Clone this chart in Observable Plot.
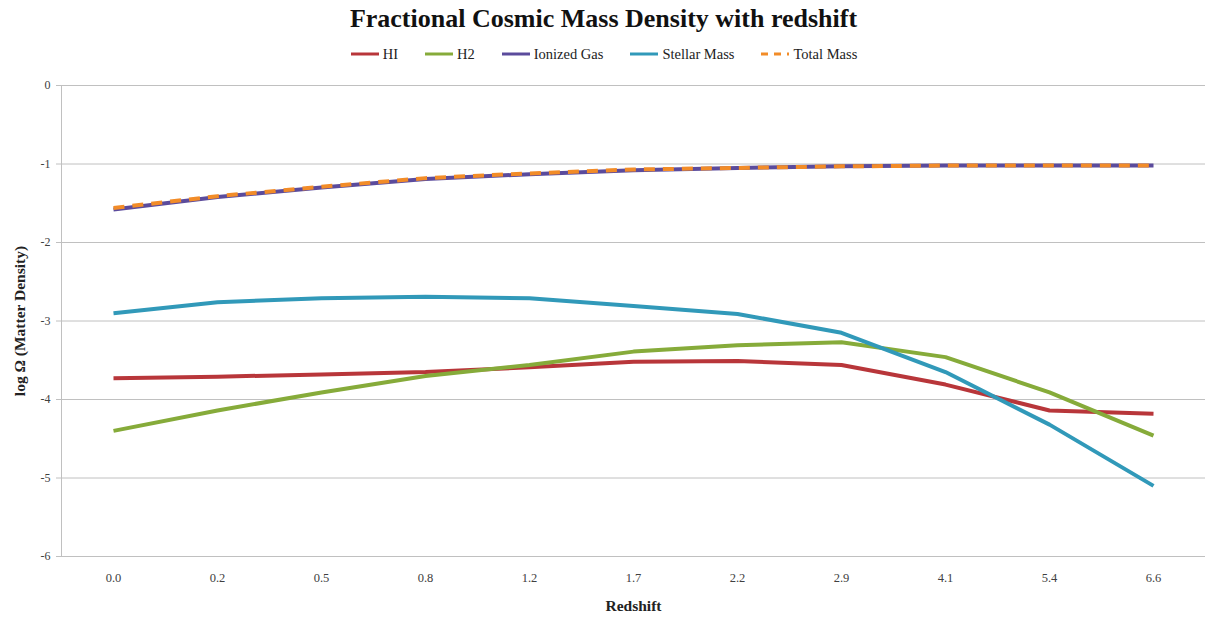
<!DOCTYPE html>
<html>
<head>
<meta charset="utf-8">
<script src="https://cdn.jsdelivr.net/npm/d3@7"></script>
<script src="https://cdn.jsdelivr.net/npm/@observablehq/plot@0.6"></script>
<style>
  html, body { margin: 0; padding: 0; background: #fff; }
  #wrap { width: 1207px; font-family: "Liberation Serif", serif; }
  #title { height: 38px; line-height: 38px; text-align: center; font-weight: bold; font-size: 26px; color: #111; }
  #legend { height: 32px; display: flex; justify-content: center; align-items: center; gap: 26px; font-size: 14.5px; color: #222; }
  .item { display: flex; align-items: center; gap: 3px; }
</style>
</head>
<body>
<div id="wrap">
  <div id="title"></div>
  <div id="legend"></div>
  <div id="chart"></div>
</div>
<script>
const chartTitle = "Fractional Cosmic Mass Density with redshift";
const xLabel = "Redshift";
const yLabel = "log Ω (Matter Density)";
const categories = ["0.0","0.2","0.5","0.8","1.2","1.7","2.2","2.9","4.1","5.4","6.6"];
const yTicks = [0, -1, -2, -3, -4, -5, -6];
const seriesNames = ["HI", "H2", "Ionized Gas", "Stellar Mass", "Total Mass"];
const seriesColors = ["#b8363a", "#86ab3a", "#5b4b9c", "#3199b9", "#f28c28"];
const HI          = [-3.73, -3.71, -3.68, -3.65, -3.59, -3.52, -3.51, -3.56, -3.81, -4.14, -4.18];
const H2          = [-4.40, -4.14, -3.91, -3.70, -3.56, -3.39, -3.31, -3.27, -3.46, -3.91, -4.46];
const ionizedGas  = [-1.58, -1.42, -1.30, -1.19, -1.13, -1.08, -1.05, -1.03, -1.02, -1.02, -1.02];
const stellarMass = [-2.90, -2.76, -2.71, -2.69, -2.71, -2.81, -2.91, -3.15, -3.65, -4.32, -5.10];
const totalMass   = [-1.56, -1.41, -1.29, -1.18, -1.12, -1.07, -1.05, -1.03, -1.02, -1.02, -1.02];
const seriesValues = [HI, H2, ionizedGas, stellarMass, totalMass];

document.getElementById("title").textContent = chartTitle;

// legend
const legend = document.getElementById("legend");
seriesNames.forEach((name, i) => {
  const item = document.createElement("div");
  item.className = "item";
  const dashed = name === "Total Mass";
  item.innerHTML = `<svg width="30" height="8"><line x1="1" y1="4" x2="29" y2="4" stroke="${seriesColors[i]}" stroke-width="3" ${dashed ? 'stroke-dasharray="7,6"' : ''}/></svg><span>${name}</span>`;
  legend.appendChild(item);
});

const rows = [];
seriesNames.forEach((name, i) => {
  categories.forEach((c, j) => rows.push({series: name, x: c, y: seriesValues[i][j]}));
});
const solid = rows.filter(d => d.series !== "Total Mass");
const dashedRows = rows.filter(d => d.series === "Total Mass");

const chart = Plot.plot({
  width: 1207,
  height: 547,
  marginTop: 15,
  marginBottom: 61,
  marginLeft: 61,
  marginRight: 2,
  style: {fontFamily: "Liberation Serif, serif", fontSize: "12px", color: "#404040", background: "#fff"},
  x: {type: "point", domain: categories, padding: 0.5},
  y: {domain: [-6, 0]},
  color: {domain: seriesNames, range: seriesColors},
  marks: [
    Plot.gridY(yTicks, {stroke: "#c0c0c0", strokeOpacity: 1, strokeWidth: 1}),
    Plot.frame({anchor: "left", stroke: "#c0c0c0"}),
    Plot.axisY({ticks: yTicks, tickSize: 5, tickPadding: 6, tickFormat: d => String(d), stroke: "#c0c0c0",
      label: yLabel, labelAnchor: "center", labelArrow: "none", labelOffset: 48,
      fontSize: 12}),
    Plot.axisX({tickSize: 0, tickPadding: 17, label: xLabel, labelAnchor: "center", labelArrow: "none", labelOffset: 54, fontSize: 12.5}),
    Plot.lineY(solid, {x: "x", y: "y", z: "series", stroke: "series", strokeWidth: 4, strokeLinejoin: "round", strokeLinecap: "butt"}),
    Plot.lineY(dashedRows, {x: "x", y: "y", stroke: "series", strokeWidth: 4, strokeDasharray: "11,8", strokeLinecap: "butt"})
  ]
});
// bold axis labels
chart.querySelectorAll("[aria-label='y-axis label'] text, [aria-label='x-axis label'] text").forEach(t => {
  t.setAttribute("font-weight", "bold");
  t.setAttribute("font-size", "15.5");
  t.setAttribute("fill", "#222");
});
document.getElementById("chart").appendChild(chart);
</script>
</body>
</html>
